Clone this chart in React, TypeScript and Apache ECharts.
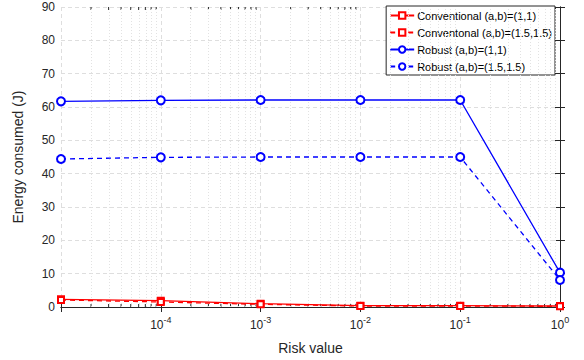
import React, { useEffect, useRef } from "react";
import * as echarts from "echarts";

// Risk values as log10 exponents
const riskExp = [-5, -4, -3, -2, -1, 0];
const convA = [2.3, 1.9, 1.0, 0.4, 0.4, 0.3];
const convB = [2.1, 1.5, 0.8, 0.3, 0.3, 0.2];
const robustA = [61.7, 62.0, 62.1, 62.1, 62.1, 10.3];
const robustB = [44.4, 44.9, 45.0, 45.0, 45.0, 8.1];
const seriesNames = [
  "Conventional (a,b)=(1,1)",
  "Conventonal (a,b)=(1.5,1.5)",
  "Robust (a,b)=(1,1)",
  "Robust (a,b)=(1.5,1.5)",
];

const minorX: number[] = [];
for (let n = -5; n < 0; n++) {
  for (let k = 2; k <= 9; k++) minorX.push(n + Math.log10(k));
}

const AX = "#262626";
const FONT = "Liberation Sans, Arial, sans-serif";

export default function App() {
  const ref = useRef<HTMLDivElement>(null);
  useEffect(() => {
    document.body.style.margin = "0";
    if (!ref.current) return;
    const chart = echarts.init(ref.current, null, { renderer: "svg" });
    const pair = (ys: number[]) => riskExp.map((x, i) => [x, ys[i]]);
    const lineSeries = (name: string, ys: number[], color: string, dashed: boolean, symbol: string, size: number) => ({
      name,
      type: "line",
      data: pair(ys),
      symbol,
      symbolSize: size,
      showSymbol: true,
      lineStyle: { color, width: 1.3, type: dashed ? [5, 4] : "solid" },
      itemStyle: { color, borderColor: color, borderWidth: 1.3 },
      z: 5,
    });
    chart.setOption({
      animation: false,
      textStyle: { fontFamily: FONT },
      grid: { left: 61, right: 24, top: 7, bottom: 53 },
      legend: {
        orient: "vertical",
        right: 29,
        top: 6,
        backgroundColor: "#ffffff",
        borderColor: "#262626",
        borderWidth: 1,
        borderRadius: 0,
        padding: [4, 3, 3, 3],
        itemGap: 6,
        itemWidth: 24,
        itemHeight: 8,
        textStyle: { fontSize: 11, color: "#000", fontFamily: FONT, padding: [0, 0, 0, -2] },
        data: seriesNames,
      },
      xAxis: [
        {
          type: "value",
          min: -5,
          max: 0,
          interval: 1,
          position: "bottom",
          name: "Risk value",
          nameLocation: "middle",
          nameGap: 34,
          nameTextStyle: { fontSize: 14, color: AX, fontFamily: FONT },
          axisLine: { show: true, lineStyle: { color: AX, width: 1 } },
          axisTick: { show: true, inside: true, length: 5, lineStyle: { color: AX } },
          splitLine: { show: true, lineStyle: { color: "#dedede", type: [4, 3], width: 1 } },
          axisLabel: {
            margin: 8,
            color: AX,
            formatter: (v: number) => (v === -5 ? "" : `{b|10}{s|${v}}`),
            rich: {
              b: { fontSize: 12, color: AX, fontFamily: FONT, verticalAlign: "bottom", lineHeight: 16 },
              s: { fontSize: 9, color: AX, fontFamily: FONT, verticalAlign: "top", lineHeight: 16 },
            },
          },
        },
        {
          type: "value",
          min: -5,
          max: 0,
          interval: 1,
          position: "top",
          axisLine: { show: true, lineStyle: { color: AX, width: 1 } },
          axisTick: { show: true, inside: true, length: 5, lineStyle: { color: AX } },
          axisLabel: { show: false },
          splitLine: { show: false },
        },
      ],
      yAxis: [
        {
          type: "value",
          min: 0,
          max: 90,
          interval: 10,
          name: "Energy consumed (J)",
          nameLocation: "middle",
          nameGap: 36,
          nameTextStyle: { fontSize: 14, color: AX, fontFamily: FONT },
          axisLine: { show: true, lineStyle: { color: AX, width: 1 } },
          axisTick: { show: true, inside: true, length: 5, lineStyle: { color: AX } },
          axisLabel: { fontSize: 12, color: AX, margin: 6, fontFamily: FONT },
          splitLine: { show: true, lineStyle: { color: "#dedede", type: [4, 3], width: 1 } },
        },
        {
          type: "value",
          min: 0,
          max: 90,
          interval: 10,
          position: "right",
          axisLine: { show: true, lineStyle: { color: AX, width: 1 } },
          axisTick: { show: true, inside: true, length: 5, lineStyle: { color: AX } },
          axisLabel: { show: false },
          splitLine: { show: false },
        },
      ],
      series: [
        {
          type: "line",
          name: "minor",
          data: [],
          silent: true,
          markLine: {
            silent: true,
            symbol: "none",
            label: { show: false },
            lineStyle: { color: "#e2e2e2", type: [1, 2], width: 1 },
            data: minorX.map((x) => ({ xAxis: x })),
          },
          z: 1,
        },
        {
          type: "custom",
          name: "minorTicks",
          silent: true,
          data: minorX.map((x) => [x]),
          renderItem: (params: any, api: any) => {
            const x = api.value(0);
            const b = api.coord([x, 0]);
            const t = api.coord([x, 90]);
            const st = { stroke: AX, lineWidth: 1 };
            return {
              type: "group",
              children: [
                { type: "line", shape: { x1: b[0], y1: b[1], x2: b[0], y2: b[1] - 3 }, style: st },
                { type: "line", shape: { x1: t[0], y1: t[1], x2: t[0], y2: t[1] + 3 }, style: st },
              ],
            };
          },
          z: 3,
        },
        lineSeries(seriesNames[0], convA, "#ff0000", false, "emptyRect", 6),
        lineSeries(seriesNames[1], convB, "#ff0000", true, "emptyRect", 6),
        lineSeries(seriesNames[2], robustA, "#0000ff", false, "emptyCircle", 8),
        lineSeries(seriesNames[3], robustB, "#0000ff", true, "emptyCircle", 8),
      ],
    });
    return () => chart.dispose();
  }, []);
  return <div ref={ref} style={{ width: 584, height: 360 }} />;
}
